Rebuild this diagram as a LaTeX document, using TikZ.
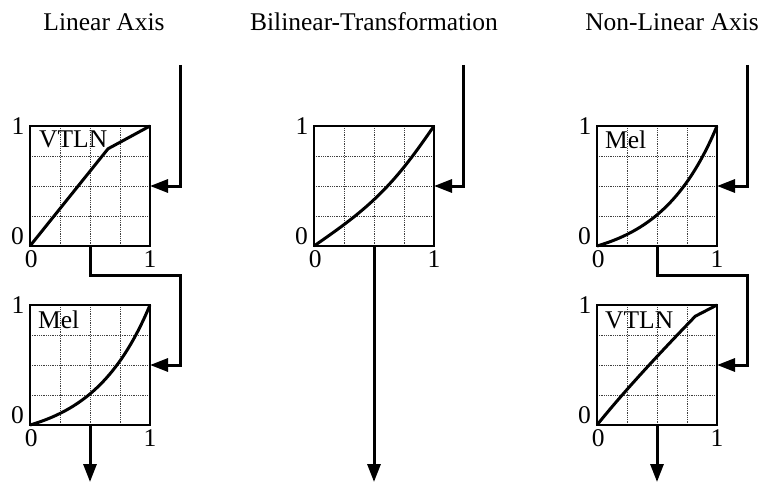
\documentclass[tikz,border=0pt]{standalone}
\usepackage{fontspec}
\setmainfont{Liberation Serif}
\usepackage{tikz}
\usetikzlibrary{arrows.meta}
\tikzset{
  txt/.style={inner sep=0pt, font=\fontsize{25.5pt}{30pt}\selectfont},
  gridline/.style={densely dotted, line width=0.8pt, black!75},
  frame/.style={line width=1.8pt},
  curve/.style={line width=3pt, samples=60},
  flow/.style={line width=3pt, -{Triangle[length=18pt,width=13pt]}},
}
% unit square of 120pt: name, lower left corner, curve path
\newcommand{\warpbox}[3]{%
\begin{scope}[shift={#2}, scale=120]
\foreach \g in {0.25,0.5,0.75} {
  \draw[gridline] (\g,0) -- (\g,1);
  \draw[gridline] (0,\g) -- (1,\g);
}
\draw[frame] (0,0) rectangle (1,1);
\coordinate (#1-nw) at (0,1);
\coordinate (#1-in) at (1,0.5);
\coordinate (#1-out) at (0.5,0);
\node[txt, anchor=east] (#1-ymax) at (-0.045,1) {1};
\node[txt, anchor=base east] (#1-ymin) at (-0.05,0.01) {0};
\node[txt, anchor=north] (#1-xmin) at (0.01,-0.035) {0};
\node[txt, anchor=north] (#1-xmax) at (1,-0.035) {1};
\draw[curve] #3;
\end{scope}}

\begin{document}
\begin{tikzpicture}[x=1pt, y=1pt]
\useasboundingbox (0,0) rectangle (763,483);

\node[txt, anchor=base] (title-lin) at (104,452) {Linear Axis};
\node[txt, anchor=base] (title-bil) at (374,452) {Bilinear-Transformation};
\node[txt, anchor=base] (title-non) at (672,452) {Non-Linear Axis};

% linear axis
\warpbox{lin1}{(30,237)}{(0,0) -- (0.65,0.81) -- (1,1)}
\warpbox{lin2}{(30,58)}{plot[domain=0:1] ({\x},{(exp(2.1*\x)-1)/(exp(2.1)-1)})}
\node[txt, anchor=north west] (lin1-tag) at ([shift={(9pt,-5pt)}]lin1-nw) {VTLN};
\node[txt, anchor=north west] (lin2-tag) at ([shift={(8pt,-6pt)}]lin2-nw) {Mel};

% bilinear
\warpbox{bil}{(314,237)}{plot[domain=0:1] ({\x},{\x+atan(-0.18*sin(180*\x)/(1+0.18*cos(180*\x)))/90})}

% non-linear axis
\warpbox{non1}{(597,237)}{plot[domain=0:1] ({\x},{(exp(2.1*\x)-1)/(exp(2.1)-1)})}
\warpbox{non2}{(597,58)}{plot[domain=0:0.82] ({\x},{ln(1+1.246*(exp(2.1*\x)-1))/2.1}) -- (1,1)}
\node[txt, anchor=north west] (non1-tag) at ([shift={(8pt,-5pt)}]non1-nw) {Mel};
\node[txt, anchor=north west] (non2-tag) at ([shift={(8pt,-7pt)}]non2-nw) {VTLN};

\coordinate (lin-top) at (180,418);
\coordinate (bil-top) at (463,418);
\coordinate (non-top) at (747,418);
\coordinate (lin-end) at (90,1);
\coordinate (bil-end) at (374,1);
\coordinate (non-end) at (657,1);

\draw[flow] (lin-top) |- (lin1-in);
\draw[flow] (lin1-out) -- ++(0,-29) -| (lin2-in -| lin-top) -- (lin2-in);
\draw[flow] (lin2-out) -- (lin-end);

\draw[flow] (bil-top) |- (bil-in);
\draw[flow] (bil-out) -- (bil-end);

\draw[flow] (non-top) |- (non1-in);
\draw[flow] (non1-out) -- ++(0,-29) -| (non2-in -| non-top) -- (non2-in);
\draw[flow] (non2-out) -- (non-end);
\end{tikzpicture}
\end{document}
